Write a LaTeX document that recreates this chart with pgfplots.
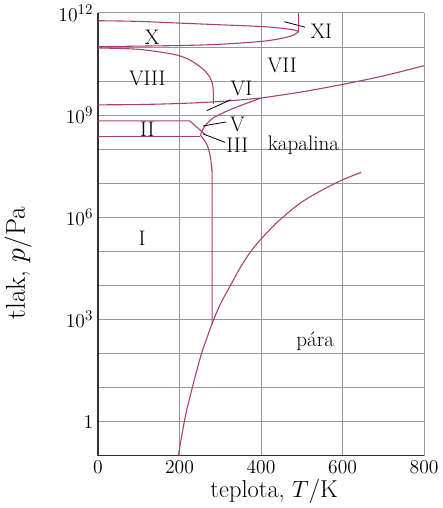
\documentclass[border=0pt]{standalone}
\usepackage{pgfplots}
\pgfplotsset{compat=1.18}
\definecolor{phase}{RGB}{172,62,118}
\definecolor{gridc}{RGB}{150,150,150}
\begin{document}
\begin{tikzpicture}
\begin{axis}[
  scale only axis, width=240pt, height=326pt,
  xmin=0, xmax=800, ymin=0.1, ymax=1e12, ymode=log,
  xtick={0,200,400,600,800},
  ytick={1,1e3,1e6,1e9,1e12},
  yticklabels={$1$,$10^3$,$10^6$,$10^9$,$10^{12}$},
  minor ytick={0.1,10,100,1e4,1e5,1e7,1e8,1e10,1e11},
  grid=both,
  major grid style={gridc, line width=0.6pt},
  minor grid style={gridc, line width=0.6pt},
  axis x line*=bottom, axis y line*=left,
  axis line style={black!80, line width=0.8pt, -},
  major tick length=0pt, minor tick length=0pt,
  tick label style={font=\fontsize{15}{17}\selectfont},
  xlabel={teplota, $T$/K}, ylabel={tlak, $p$/Pa},
  xlabel style={font=\fontsize{18}{20}\selectfont, at={(axis description cs:0.54,-0.08)}, anchor=center},
  ylabel style={font=\fontsize{20}{22}\selectfont, at={(axis description cs:-0.245,0.435)}, anchor=center},
  ph/.style={draw=phase, line width=0.8pt, no markers},
]
% vapour curve
\addplot[ph, smooth] coordinates {
 (197,0.1) (205,0.355) (215,1.58) (225,5.0) (240,25) (254,100) (267,282)
 (279,708) (300,2818) (325,1e4) (350,3.5e4) (375,1.0e5) (400,2.3e5) (430,5.5e5)
 (458,1.12e6) (500,2.82e6) (550,6.31e6) (600,1.26e7) (646,2.09e7)};
% ice I melting curve and liquid boundary up to VI/VII
\addplot[ph, smooth] coordinates {
 (280,708) (280,1e7) (279,2.51e7) (276,5.62e7) (270,1.12e8) (262,1.78e8)
 (252,2.51e8) (256,3.55e8) (264,5.01e8) (283,8.32e8) (317,1.32e9)
 (350,1.91e9) (400,3.16e9)};
% VII melting curve
\addplot[ph, smooth] coordinates {
 (400,3.16e9) (500,4.79e9) (600,7.94e9) (700,1.41e10) (800,2.82e10)};
% VIII/VI boundary
\addplot[ph, smooth] coordinates {
 (0,2.0e9) (100,2.04e9) (200,2.19e9) (300,2.51e9) (400,3.16e9)};
% VIII/VII boundary
\addplot[ph, smooth] coordinates {
 (0,9.33e10) (100,8.51e10) (183,6.17e10) (220,4.47e10) (242,3.09e10)
 (262,2.0e10) (275,1.26e10) (281,7.94e9) (283,5.01e9) (283,2.14e9)};
% II upper and III/V diagonal
\addplot[ph] coordinates {(0,6.76e8) (225,6.76e8) (263,2.7e8)};
% II lower
\addplot[ph] coordinates {(0,2.34e8) (251,2.34e8)};
% X upper
\addplot[ph, smooth] coordinates {
 (0,5.89e11) (100,5.62e11) (200,5.01e11) (300,4.47e11) (400,3.98e11)
 (450,3.55e11) (480,3.16e11) (492,2.82e11)};
% X lower
\addplot[ph, smooth] coordinates {
 (0,1.02e11) (200,1.10e11) (300,1.20e11) (400,1.45e11) (450,1.78e11)
 (480,2.24e11) (492,2.82e11)};
% X/XI vertical
\addplot[ph] coordinates {(492,2.82e11) (492,1e12)};
% labels
\begin{scope}[font=\fontsize{15.5}{17}\selectfont]
\node at (axis cs:133,1.95e11) {X};
\node at (axis cs:548,2.95e11) {XI};
\node at (axis cs:121,1.2e10) {VIII};
\node at (axis cs:452,2.82e10) {VII};
\node at (axis cs:352,5.9e9) {VI};
\node at (axis cs:342,5.25e8) {V};
\node at (axis cs:342,1.26e8) {III};
\node at (axis cs:121,3.8e8) {II};
\node at (axis cs:504,1.26e8) {kapalina};
\node at (axis cs:108,2.5e5) {I};
\node at (axis cs:533,224) {pára};
\end{scope}
\draw[black, line width=0.6pt] (axis cs:457,5.5e11) -- (axis cs:508,3.8e11);
\draw[black, line width=0.6pt] (axis cs:267,1.35e9) -- (axis cs:325,2.8e9);
\draw[black, line width=0.6pt] (axis cs:258,4.8e8) -- (axis cs:315,6.3e8);
\draw[black, line width=0.6pt] (axis cs:258,2.8e8) -- (axis cs:312,1.58e8);
\end{axis}
\end{tikzpicture}
\end{document}
